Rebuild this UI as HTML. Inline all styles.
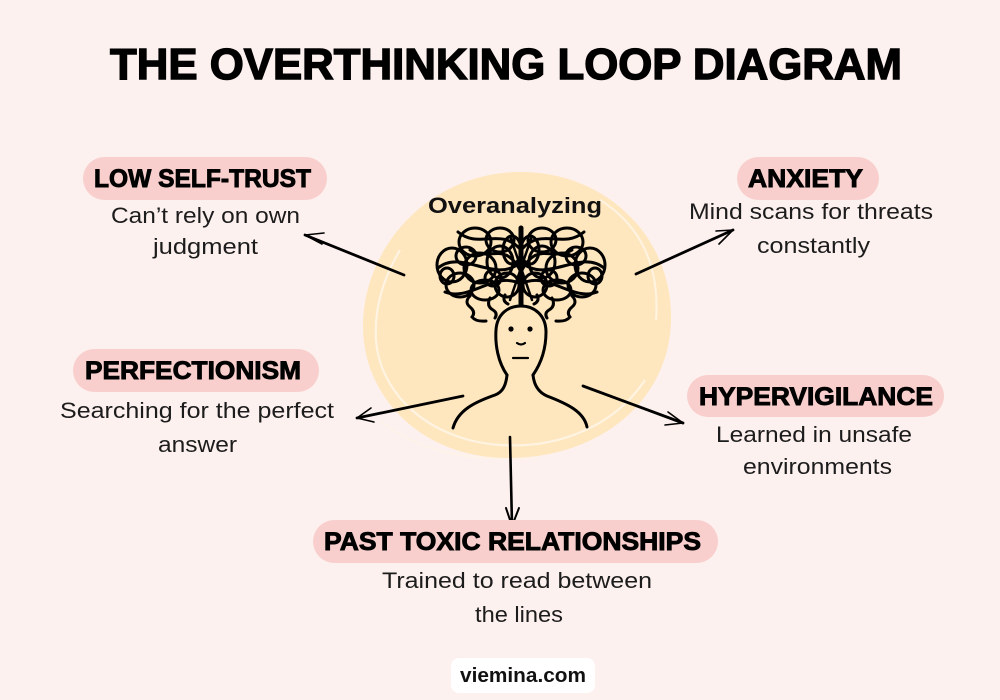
<!DOCTYPE html>
<html><head><meta charset="utf-8"><style>
html,body{margin:0;padding:0;background:#FDF1EF;}
svg{display:block;}
.h{font-family:"Liberation Sans",sans-serif;font-weight:bold;fill:#000;stroke:#000;stroke-width:0.9;}
.d{font-family:"Liberation Sans",sans-serif;font-size:22px;fill:#1c1c1c;}
</style></head><body>
<svg width="1000" height="700" viewBox="0 0 1000 700" xmlns="http://www.w3.org/2000/svg">
<rect width="1000" height="700" fill="#FDF1EF"/>

<!-- Title -->
<text class="h" x="110" y="79" font-size="44" textLength="792" lengthAdjust="spacingAndGlyphs" style="stroke-width:1.4">THE OVERTHINKING LOOP DIAGRAM</text>

<!-- central blob -->
<path d="M517,172 C600,170 668,230 671,312 C674,395 605,458 508,458 C420,458 362,395 363,325 C364,245 430,174 517,172 Z" fill="#FEE7BF"/>
<path d="M400,250 C385,275 374,305 376,340 C380,395 430,440 500,445 C560,449 615,425 645,380" fill="none" stroke="#FFF4E6" stroke-width="2.2" opacity="0.9"/>
<path d="M600,200 C640,225 660,265 656,320" fill="none" stroke="#FFF4E6" stroke-width="2" opacity="0.9"/>
<path d="M380,420 C420,455 480,462 540,458" fill="none" stroke="#FFF4E6" stroke-width="1.6" opacity="0.8"/>

<!-- Overanalyzing -->
<text x="428" y="213" font-family="Liberation Sans, sans-serif" font-weight="bold" font-size="22" fill="#111" textLength="174" lengthAdjust="spacingAndGlyphs">Overanalyzing</text>

<!-- scribble -->
<g fill="none" stroke="#000" stroke-width="3" stroke-linecap="round">
  <g id="half">
    <ellipse cx="475" cy="242" rx="16" ry="14"/>
    <ellipse cx="500" cy="240" rx="14" ry="12"/>
    <ellipse cx="452" cy="265" rx="15" ry="17"/>
    <ellipse cx="460" cy="285" rx="14" ry="12"/>
    <ellipse cx="480" cy="268" rx="16" ry="15"/>
    <ellipse cx="500" cy="262" rx="13" ry="16"/>
    <ellipse cx="485" cy="290" rx="14" ry="10"/>
    <ellipse cx="507" cy="285" rx="12" ry="12"/>
    <ellipse cx="512" cy="250" rx="9" ry="14"/>
    <ellipse cx="466" cy="256" rx="10" ry="9"/>
    <ellipse cx="493" cy="278" rx="8" ry="8"/>
    <ellipse cx="447" cy="276" rx="7" ry="8"/>
    <path d="M438,268 C462,248 495,285 521,262"/>
    <path d="M445,292 C470,302 495,270 521,284"/>
    <path d="M458,232 C480,250 500,226 521,250"/>
    <path d="M470,250 C490,262 505,240 521,272"/>
    <path d="M470,296 q-6,6 0,11 q6,5 2,10 q4,5 14,4"/>
    <path d="M490,298 q-4,8 3,12 q5,3 2,8"/>
    <path d="M505,295 q-3,6 3,9"/>
  </g>
  <use href="#half" transform="translate(1042,0) scale(-1,1)"/>
  <path d="M521,228 L521,304" stroke-width="5"/>
  <path d="M510,236 L532,300 M532,236 L510,300" stroke-width="2.5"/>
</g>

<!-- head / body -->
<g fill="none" stroke="#000" stroke-width="3" stroke-linecap="round" stroke-linejoin="round">
  <path d="M507,375 C498,362 495,345 496,330 C497,314 508,306 521,306 C534,306 546,315 546,332 C546,348 542,362 533,375"/>
  <path d="M507,375 C506,385 503,392 495,395 C475,402 458,410 453,428"/>
  <path d="M533,375 C534,385 538,392 547,396 C568,404 584,412 587,427"/>
  <path d="M517,343 Q521,346 525,343" stroke-width="2.2"/>
  <path d="M513,358 L528,358" stroke-width="2.2"/>
</g>
<circle cx="511" cy="329" r="2.6" fill="#000"/>
<circle cx="530" cy="329" r="2.6" fill="#000"/>

<!-- arrows -->
<g fill="none" stroke="#000" stroke-linecap="round" stroke-linejoin="round">
  <path d="M404,275 L305,235" stroke-width="2.8"/>
  <path d="M324,233 L305,235 L322,244" stroke-width="1.6"/>

  <path d="M636,274 L733,230" stroke-width="2.8"/>
  <path d="M716,231 L733,230 L719,244" stroke-width="1.6"/>

  <path d="M463,396 L357,418" stroke-width="2.8"/>
  <path d="M371,408 L357,418 L374,422" stroke-width="1.6"/>

  <path d="M583,386 L683,423" stroke-width="2.8"/>
  <path d="M668,412 L683,423 L665,425" stroke-width="1.6"/>

  <path d="M510,437 L512,525" stroke-width="2.6"/>
  <path d="M506,508 L512,526 L519,508" stroke-width="2"/>
</g>

<!-- pills -->
<rect x="83" y="157" width="244" height="43" rx="21.5" fill="#F8CFCD"/>
<text class="h" x="94" y="187" font-size="25" textLength="217" lengthAdjust="spacingAndGlyphs">LOW SELF-TRUST</text>
<text class="d" x="111" y="223" textLength="189" lengthAdjust="spacingAndGlyphs">Can’t rely on own</text>
<text class="d" x="153" y="254" textLength="105" lengthAdjust="spacingAndGlyphs">judgment</text>

<rect x="737" y="157" width="142" height="43" rx="21.5" fill="#F8CFCD"/>
<text class="h" x="748" y="187" font-size="25" textLength="115" lengthAdjust="spacingAndGlyphs">ANXIETY</text>
<text class="d" x="689" y="219" textLength="244" lengthAdjust="spacingAndGlyphs">Mind scans for threats</text>
<text class="d" x="757" y="253" textLength="113" lengthAdjust="spacingAndGlyphs">constantly</text>

<rect x="73" y="349" width="246" height="43" rx="21.5" fill="#F8CFCD"/>
<text class="h" x="85" y="379" font-size="25" textLength="216" lengthAdjust="spacingAndGlyphs">PERFECTIONISM</text>
<text class="d" x="60" y="418" textLength="274" lengthAdjust="spacingAndGlyphs">Searching for the perfect</text>
<text class="d" x="158" y="452" textLength="79" lengthAdjust="spacingAndGlyphs">answer</text>

<rect x="687" y="375" width="257" height="42" rx="21" fill="#F8CFCD"/>
<text class="h" x="699" y="405" font-size="25" textLength="234" lengthAdjust="spacingAndGlyphs">HYPERVIGILANCE</text>
<text class="d" x="716" y="442" textLength="196" lengthAdjust="spacingAndGlyphs">Learned in unsafe</text>
<text class="d" x="743" y="474" textLength="149" lengthAdjust="spacingAndGlyphs">environments</text>

<rect x="313" y="520" width="405" height="43" rx="21.5" fill="#F8CFCD"/>
<text class="h" x="324" y="550" font-size="25" textLength="377" lengthAdjust="spacingAndGlyphs">PAST TOXIC RELATIONSHIPS</text>
<text class="d" x="382" y="588" textLength="270" lengthAdjust="spacingAndGlyphs">Trained to read between</text>
<text class="d" x="475" y="622" textLength="88" lengthAdjust="spacingAndGlyphs">the lines</text>

<!-- footer -->
<rect x="451" y="658" width="144" height="35" rx="8" fill="#FFFFFF"/>
<text x="460" y="682" font-family="Liberation Sans, sans-serif" font-weight="bold" font-size="20" fill="#111" textLength="126" lengthAdjust="spacingAndGlyphs">viemina.com</text>
</svg>
</body></html>
